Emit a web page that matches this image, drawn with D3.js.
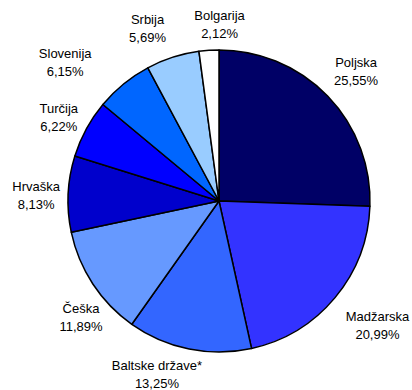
<!DOCTYPE html>
<html><head><meta charset="utf-8">
<script src="https://cdn.jsdelivr.net/npm/d3@7"></script>
<style>html,body{margin:0;padding:0;background:#fff;}</style>
</head><body>
<svg id="chart" width="412" height="390"></svg>
<script>
const categories = ["Poljska","Madžarska","Baltske države*","Češka","Hrvaška","Turčija","Slovenija","Srbija","Bolgarija"];
const values = [25.55,20.99,13.25,11.89,8.13,6.22,6.15,5.69,2.12];
const valueLabels = ["25,55%","20,99%","13,25%","11,89%","8,13%","6,22%","6,15%","5,69%","2,12%"];
const colors = ["#000066","#3333FF","#3366FF","#6699FF","#0000CC","#0000FF","#0066FF","#99CCFF","#FFFFFF"];
// label placement: angular nudge (deg) and distance from centre
const labelAngleNudge = [0.5,-1.8,8.3,-6.6,-0.7,-0.8,-8.8,-4.6,4];
const labelDist = [189,201,184,180,183,181,207,187,177];

const svg = d3.select("#chart");
const cx = 219, cy = 201, r = 151;
const g = svg.append("g").attr("transform", `translate(${cx},${cy})`);
const pie = d3.pie().sort(null).value(d => d);
const arcs = pie(values);
const arc = d3.arc().innerRadius(0).outerRadius(r);
g.selectAll("path").data(arcs).join("path")
  .attr("d", arc)
  .attr("fill", (d,i) => colors[i])
  .attr("stroke", "#000").attr("stroke-width", 1.5).attr("stroke-linejoin","round");

const lab = g.selectAll("text").data(arcs).join("text")
  .attr("font-family", "Liberation Sans, Arial, sans-serif")
  .attr("font-size", 13).attr("fill", "#000").attr("text-anchor", "middle")
  .attr("transform", (d,i) => {
    const a = (d.startAngle + d.endAngle)/2 + labelAngleNudge[i]*Math.PI/180;
    const x = Math.sin(a)*labelDist[i], y = -Math.cos(a)*labelDist[i];
    return `translate(${x},${y})`;
  });
lab.append("tspan").attr("x",0).attr("y",-4).text((d,i)=>categories[i]);
lab.append("tspan").attr("x",0).attr("y",14).text((d,i)=>valueLabels[i]);
</script>
</body></html>
